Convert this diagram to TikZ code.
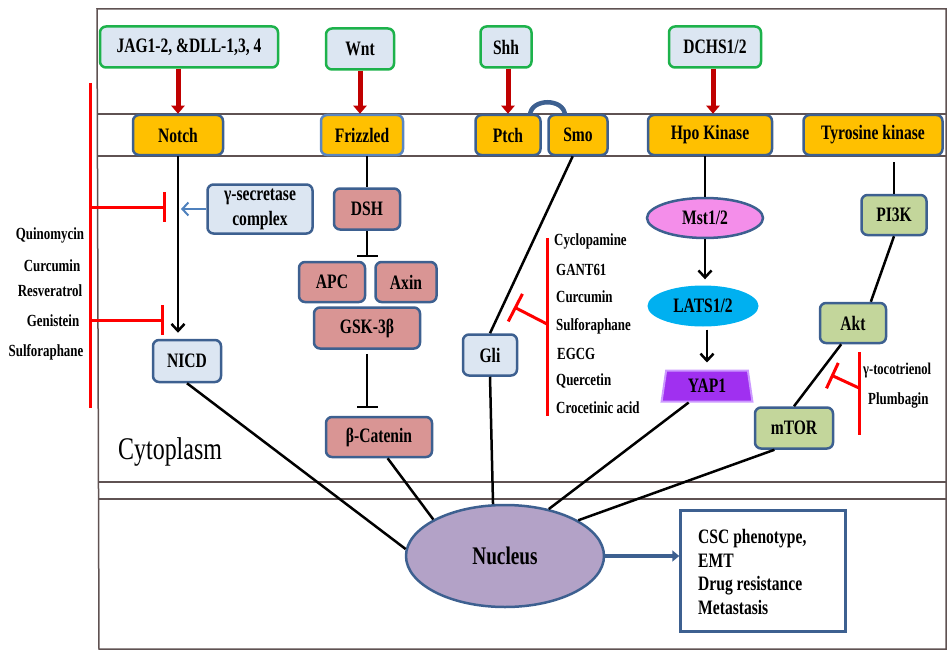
\documentclass[tikz,border=0pt]{standalone}
\usepackage{fontspec}
\setmainfont{Liberation Serif}[FakeStretch=0.76]
\usetikzlibrary{arrows.meta,shapes.geometric}
\definecolor{bbord}{HTML}{3D6090}
\definecolor{bbordl}{HTML}{5A86C0}
\definecolor{gbord}{HTML}{1DB24B}
\definecolor{lblue}{HTML}{DCE6F2}
\definecolor{orng}{HTML}{FFC000}
\definecolor{pinkr}{HTML}{D99594}
\definecolor{olive}{HTML}{C3D69B}
\definecolor{mstpink}{HTML}{F48EEA}
\definecolor{latscyan}{HTML}{00B0F0}
\definecolor{yappur}{HTML}{A030F0}
\definecolor{yapbord}{HTML}{CC99FF}
\definecolor{nucfill}{HTML}{B3A2C7}
\definecolor{darkred}{HTML}{C00000}
\definecolor{frame}{HTML}{5F5252}
\definecolor{gblue}{HTML}{4F81BD}
\tikzset{
  lab/.style={font=\bfseries\fontsize{20.5}{25}\selectfont, inner sep=0pt, align=center},
  sig/.style={lab, rounded corners=6pt, draw=gbord, fill=lblue, line width=2.5pt, minimum height=41pt},
  rec/.style={lab, rounded corners=6pt, draw=bbord, fill=orng, line width=2.5pt, minimum height=40pt},
  lbbox/.style={lab, rounded corners=6pt, draw=bbord, fill=lblue, line width=2.5pt, minimum height=41pt},
  pbox/.style={lab, rounded corners=6pt, draw=bbord, fill=pinkr, line width=2.5pt, minimum height=40pt},
  gbox/.style={lab, rounded corners=6pt, draw=bbord, fill=olive, line width=2.5pt, minimum height=40pt},
  drug/.style={font=\bfseries\fontsize{17}{19}\selectfont, inner sep=0pt},
  conn/.style={line width=2.5pt, black},
  ligarrow/.style={line width=5pt, darkred, -{Triangle[length=8pt,width=13pt]}},
  barb/.style={line width=2.5pt, black, -{Straight Barb[length=7pt,width=13pt]}},
  redline/.style={line width=3pt, red},
  memb/.style={line width=1.5pt, frame}
}
\begin{document}
\begin{tikzpicture}[x=1pt,y=-1pt]
\useasboundingbox (0,0) rectangle (947,650);
% frame and membranes
\draw[memb] (97,9) -- (946,9) -- (946,649) -- (99,649) -- cycle;
\draw[memb] (97,114) -- (946,114);
\draw[memb] (97,156) -- (946,156);
\draw[memb] (98,482) -- (946,482);
\draw[memb] (98,499) -- (946,499);

% ligands
\node[sig, minimum width=178pt] (jag) at (189,47) {JAG1-2, \&DLL-1,3, 4};
\node[sig, minimum width=68pt] (wnt) at (360,49) {Wnt};
\node[sig, minimum width=51pt] (shh) at (506,47) {Shh};
\node[sig, minimum width=92pt] (dchs) at (715,47) {DCHS1/2};

% receptors
\node[rec, minimum width=90pt] (notch) at (178,135) {Notch};
\node[rec, minimum width=82pt, draw=bbordl] (friz) at (362,135) {Frizzled};
\node[rec, minimum width=65pt] (ptch) at (508,135) {Ptch};
\node[rec, minimum width=59pt] (smo) at (578,135) {Smo};
\node[rec, minimum width=124pt] (hpo) at (710,135) {Hpo Kinase};
\node[rec, minimum width=139pt] (tyr) at (873,135) {Tyrosine kinase};

% ligand arrows
\draw[ligarrow] (notch.north |- jag.south) -- (notch.north);
\draw[ligarrow] (wnt.south) -- (wnt.south |- friz.north);
\draw[ligarrow] (ptch.north |- shh.south) -- (ptch.north);
\draw[ligarrow] (dchs.south -| 713,0) -- (hpo.north -| 713,0);

% Ptch-Smo link
\coordinate (arcL) at (530,115);
\coordinate (arcR) at (565,115);
\draw[line width=4.5pt, bbord] (arcL) .. controls (531,98) and (564,98) .. (arcR);

% Notch pathway
\node[lbbox, minimum width=105pt, minimum height=49pt] (gamma) at (260,209) {γ-secretase\\complex};
\node[lbbox, minimum width=68pt, minimum height=42pt] (nicd) at (187,361) {NICD};
\draw[barb] (notch.south) -- (notch.south |- nicd.north) [shorten >=6pt];
\draw[line width=2pt, gblue, -{Straight Barb[length=6pt,width=13pt]}, shorten >=3pt] (gamma.west) -- (gamma.west -| notch.south);

% left drugs
\coordinate (lbT) at (90,83);
\coordinate (lbB) at (90,408);
\coordinate (lbA) at (90,207);
\coordinate (lbC) at (90,320);
\coordinate (tA) at (166,207);
\coordinate (tC) at (164,320);
\draw[redline] (lbT) -- (lbB);
\draw[redline, -{Bar[width=30pt]}] (lbA) -- (tA);
\draw[redline, -{Bar[width=30pt]}] (lbC) -- (tC);
\node[drug] (d1) at (50,235) {Quinomycin};
\node[drug] (d2) at (52,266) {Curcumin};
\node[drug] (d3) at (50,291) {Resveratrol};
\node[drug] (d4) at (53,321) {Genistein};
\node[drug] (d5) at (46,352) {Sulforaphane};

% Wnt pathway
\node[pbox, minimum width=66pt, minimum height=41pt] (dsh) at (367,209) {DSH};
\node[pbox, minimum width=66pt] (apc) at (332,282) {APC};
\node[pbox, minimum width=61pt] (axin) at (406,282) {Axin};
\node[pbox, minimum width=106pt, minimum height=41pt] (gsk) at (367,328) {GSK-3β};
\node[pbox, minimum width=106pt] (bcat) at (379,437) {β-Catenin};
\draw[conn] (dsh.north |- friz.south) -- (dsh.north);
\coordinate (dshT) at (367,257);
\draw[conn, -{Bar[width=21pt]}] (dsh.south) -- (dshT);
\coordinate (gskT) at (367,408);
\draw[conn, -{Bar[width=21pt]}, shorten <=4pt] (gsk.south) -- (gskT);

% Hedgehog pathway
\node[lbbox, minimum width=54pt] (gli) at (490,355) {Gli};
\draw[conn] (smo.256) -- (gli.north);
\coordinate (mbT) at (547,238);
\coordinate (mbB) at (547,416);
\coordinate (mbA) at (547,324);
\coordinate (mbE) at (514,307);
\draw[redline] (mbT) -- (mbB);
\draw[redline, -{Bar[width=31pt]}] (mbA) -- (mbE);
\node[drug, anchor=west] (h1) at (554,241) {Cyclopamine};
\node[drug, anchor=west] (h2) at (556,270) {GANT61};
\node[drug, anchor=west] (h3) at (556,297) {Curcumin};
\node[drug, anchor=west] (h4) at (556,326) {Sulforaphane};
\node[drug, anchor=west] (h5) at (557,354) {EGCG};
\node[drug, anchor=west] (h6) at (556,381) {Quercetin};
\node[drug, anchor=west] (h7) at (556,408) {Crocetinic acid};

% Hippo pathway
\node[lab, ellipse, draw=bbord, line width=2.5pt, fill=mstpink, minimum width=116pt, minimum height=40pt] (mst) at (705,218) {Mst1/2};
\node[lab, ellipse, fill=latscyan, minimum width=111pt, minimum height=41pt] (lats) at (703,306) {LATS1/2};
\node[lab, trapezium, trapezium left angle=81, trapezium right angle=81, trapezium stretches=true, draw=yapbord, line width=2pt, fill=yappur, minimum width=91pt, minimum height=31pt] (yap) at (707,386) {YAP1};
\draw[conn] (mst.north |- hpo.south) -- (mst.north);
\draw[barb, shorten >=6pt] (mst.south) -- (mst.south |- lats.north);
\draw[barb, shorten >=7pt, shorten <=3pt] (lats.south -| yap.north) -- (yap.north);

% PI3K pathway
\node[gbox, minimum width=65pt] (pi3k) at (894,215) {PI3K};
\node[gbox, minimum width=66pt] (akt) at (853,323) {Akt};
\node[gbox, minimum width=78pt, minimum height=41pt] (mtor) at (794,428) {mTOR};
\draw[conn, shorten <=6pt] (pi3k.north |- tyr.south) -- (pi3k.north);
\draw[conn] (pi3k.south) -- (akt.50);
\draw[conn] (akt.241) -- (mtor.north);
\coordinate (rbT) at (859,352);
\coordinate (rbB) at (859,435);
\coordinate (rbA) at (859,388);
\coordinate (rbE) at (831,375);
\draw[redline] (rbT) -- (rbB);
\draw[redline, -{Bar[width=28pt]}] (rbA) -- (rbE);
\node[drug, anchor=west, font=\bfseries\fontsize{16.5}{19}\selectfont] (p1) at (863,371) {γ-tocotrienol};
\node[drug, anchor=west] (p2) at (868,400) {Plumbagin};

% Cytoplasm label
\node[anchor=west, inner sep=0pt, font=\fontsize{31.5}{36}\selectfont] (cyto) at (118,452) {Cytoplasm};

% Nucleus
\node[lab, ellipse, draw=bbord, line width=2.5pt, fill=nucfill, minimum width=198pt, minimum height=102pt, font=\bfseries\fontsize{25.3}{29}\selectfont] (nucleus) at (505,556) {Nucleus};
\draw[conn] (nicd.south) -- (nucleus.176);
\draw[conn] (bcat.292) -- (nucleus.153);
\draw[conn] (gli.south) -- (nucleus.103);
\draw[conn] (yap.222) -- (nucleus.47);
\draw[conn] (mtor.228) -- (nucleus.26);

% Output
\node[draw=bbord, line width=2.5pt, fill=white, minimum width=165pt, minimum height=121pt, inner sep=0pt] (outbox) at (763,571) {};
\node[lab, anchor=west, align=left, font=\bfseries\fontsize{20.5}{23.5}\selectfont] (outtext) at (698,572) {CSC phenotype,\\EMT\\Drug resistance\\Metastasis};
\draw[line width=4.5pt, bbord, -{Triangle[length=7pt,width=11pt]}] (nucleus.east) -- (nucleus.east -| outbox.west);
\end{tikzpicture}
\end{document}
